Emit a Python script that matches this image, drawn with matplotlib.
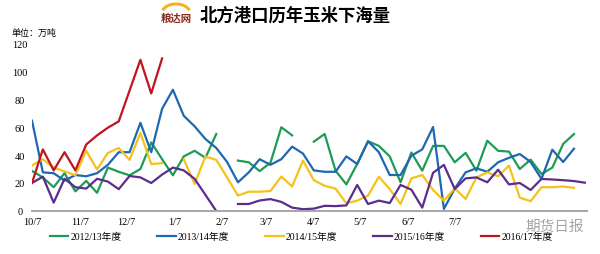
import numpy as np
import matplotlib
matplotlib.use("Agg")
import matplotlib.pyplot as plt
from matplotlib.patches import Arc

plt.rcParams['font.family'] = ['Liberation Serif', 'Noto Sans CJK SC']

nan = np.nan
# weekly samples from 10/7 onward (week index 0..51)
weeks = np.arange(52)
month_labels = ["10/7", "11/7", "12/7", "1/7", "2/7", "3/7", "4/7", "5/7", "6/7", "7/7"]
month_days = [0, 31, 61, 92, 123, 151, 182, 212, 243, 273]

s2012 = [28.6, 24, 17, 27, 14, 21.5, 13, 31, 28, 25.5, 30, 49, 37, 25.5, 39, 43, 38, 55,
         nan, 36, 34.8, 28.5, 34.5, 59.8, 54, nan, 49.5, 55, 28.8, 19, 33.6, 49.8, 46.5,
         39, 20.5, 41.8, 28.8, 46.5, 46.5, 34.8, 41.5, 28.8, 50.2, 43, 42.4, 30, 36.7,
         26.4, 31, 47.9, 55, nan]
s2013 = [64.5, 27.6, 27, 21.7, 25.7, 24.8, 27, 33, 42, 42, 63, 42, 73, 86.6, 68, 60.5,
         51.4, 45, 35, 20.5, 27.6, 37, 33, 37, 46, 41, 29, 28, 28, 39, 33.6, 49.8, 42,
         25.7, 25.7, 39.5, 44, 60, 1.5, 16, 27.6, 30.5, 28, 34.8, 38, 40.7, 35, 22.9,
         43.8, 35, 44.5, nan]
s2014 = [32.5, 37, 31, 28.3, 25.6, 43, 29.7, 41.5, 45, 36.5, 55.8, 33.5, 34.2, nan, 37,
         19.3, 39, 36.5, 24, 11, 13.8, 13.8, 14.3, 24.6, 17.5, 36, 22, 18, 16, 5.5, 7.4,
         11, 24.5, 15.7, 5, 23.3, 25.7, 15, 7.4, 16.2, 8.6, 24, 27.6, 24.8, 32.4, 9.5, 7,
         17, 17, 17.5, 16.5, nan]
s2015 = [20, 24.5, 6, 23, 17, 16, 23, 21, 15.6, 25, 24, 20, 26, 31, 29, 23, 11.5, 0,
         nan, 5, 5, 7.5, 8.5, 6.5, 2.4, 1.3, 1.7, 3.7, 3.5, 4, 18.6, 5, 7.4, 5.7, 18.6,
         15.2, 2.4, 27.3, 32.9, 15.7, 23.3, 24, 20.5, 29.5, 19, 20, 15, 22.9, 22.5, 22,
         21.4, 20.2]
s2016 = [20, 44, 29, 42, 29, 47.5, 54, 59.5, 64, 86, 108, 84, 109] + [nan] * 39

series = [
    ("2012/13年度", s2012, "#1e9b57"),
    ("2013/14年度", s2013, "#1f68b0"),
    ("2014/15年度", s2014, "#f5c21b"),
    ("2015/16年度", s2015, "#5b2d8e"),
    ("2016/17年度", s2016, "#c0141f"),
]

fig = plt.figure(figsize=(6, 2.55), dpi=100)
ax = fig.add_axes([32 / 600, 43 / 255, 555 / 600, 168 / 255])

for label, vals, color in series:
    ax.plot(weeks, vals, color=color, lw=1.6, label=label)

ax.set_xlim(0, 51.2)
ax.set_ylim(0, 120)
ax.set_yticks(range(0, 121, 20))
ax.set_xticks(np.array(month_days) / 7)
ax.set_xticklabels(month_labels)
ax.tick_params(axis="y", length=0, pad=8.6, labelsize=7.5)
ax.tick_params(axis="x", length=0, pad=4, labelsize=7.5)
for t in ax.get_yticklabels():
    t.set_horizontalalignment("center")
for side in ("top", "right", "left"):
    ax.spines[side].set_visible(False)
ax.spines["bottom"].set_color("#a6a6a6")
ax.spines["bottom"].set_linewidth(1.4)

fig.legend(loc="center", bbox_to_anchor=(0.502, 0.068), ncol=5, frameon=False,
           fontsize=7, handlelength=1.9, handletextpad=0.2, columnspacing=3.7)

# title with site logo
fig.text(0.492, 0.94, "北方港口历年玉米下海量", fontsize=12.5, fontweight="bold",
         ha="center", va="center", family=["Noto Sans CJK SC"])
fig.add_artist(Arc((176 / 600, 1 - 14 / 255), 28 / 600, 18 / 255, theta1=25, theta2=155,
                   color="#f2b51c", lw=2.2, transform=fig.transFigure))
fig.text(176 / 600, 1 - 18.5 / 255, "粮达网", fontsize=7.5, fontweight="bold",
         color="#8a2b1b", ha="center", va="center", family=["Noto Sans CJK SC"])

fig.text(12 / 600, 0.87, "单位：万吨", fontsize=6.5, ha="left", va="center")

# watermark
fig.text(555 / 600, 1 - 227 / 255, "期货日报", fontsize=10.5, color="#8f8f8f", alpha=0.8,
         ha="center", va="center", family=["Noto Sans CJK SC"])

fig.savefig("out.png", dpi=100)
